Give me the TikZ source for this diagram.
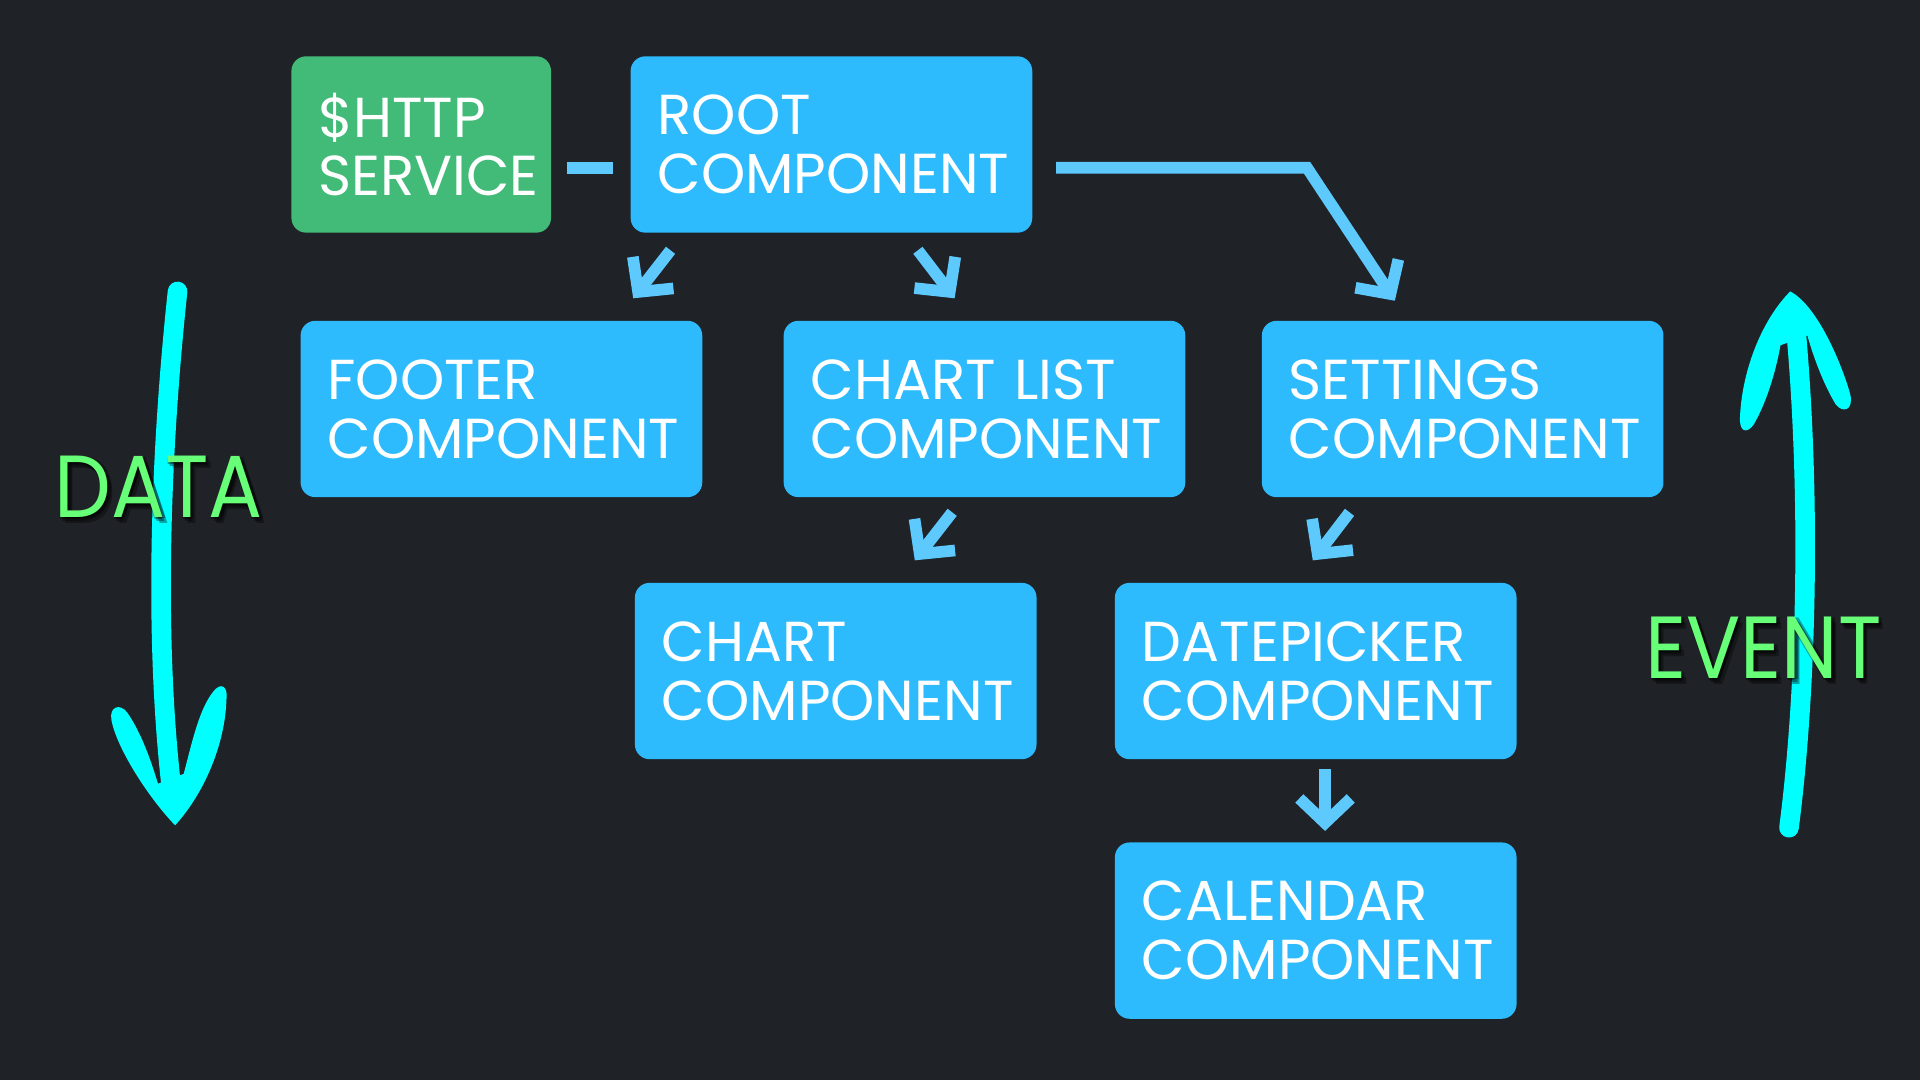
\documentclass[tikz,border=0pt]{standalone}
\usepackage{fontspec}
\setmainfont{Poppins}
\newfontfamily\rotulofont{Poppins}[FakeStretch=0.91]
\usetikzlibrary{calc,arrows.meta}

\definecolor{fondo}{HTML}{1F2327}
\definecolor{azul}{HTML}{2EBBFD}
\definecolor{verde}{HTML}{43BB78}
\definecolor{azulflecha}{HTML}{5DC9FD}
\definecolor{cian}{HTML}{00FFFF}
\definecolor{verdeclaro}{HTML}{66FF77}

\begin{document}
\begin{tikzpicture}[x=0.5pt,y=-0.5pt,
  caja/.style={fill=azul, rounded corners=6pt, text=white, align=left,
    text width=142pt, inner xsep=11pt, inner ysep=0pt, minimum height=72pt,
    font=\fontsize{23}{24}\selectfont},
  servicio/.style={caja, fill=verde, text width=84pt},
  enlace/.style={draw=azulflecha, line width=4.75pt, line join=miter},
  flecha/.style={enlace, -{Straight Barb[length=10pt,width=21pt]}},
  trazo/.style={draw=cian, line width=8pt, line cap=round},
  rotulo/.style={text=verdeclaro, inner sep=0pt, font=\rotulofont\fontsize{36}{36}\selectfont},
  sombra/.style={rotulo, text=black, opacity=0.35}]
% Fondo
\fill[fondo] (0,0) rectangle (1568,882);
% Cajas
\node[servicio] (http) at (344,118) {\$HTTP\\SERVICE};
\node[caja] (root) at (679,118) {ROOT\\COMPONENT};
\node[caja] (footer) at (409.5,334) {FOOTER\\COMPONENT};
\node[caja] (chartlist) at (804,334) {CHART LIST\\COMPONENT};
\node[caja] (settings) at (1194.5,334) {SETTINGS\\COMPONENT};
\node[caja] (chart) at (682.5,548) {CHART\\COMPONENT};
\node[caja] (datepicker) at (1074.5,548) {DATEPICKER\\COMPONENT};
\node[caja] (calendar) at (1074.5,760) {CALENDAR\\COMPONENT};
% $HTTP -- ROOT
\draw[enlace] ($(http.east)+(13,19)$) -- ($(root.west)+(-14,19)$);
% ROOT -> SETTINGS
\draw[flecha] ($(root.east)+(19,19)$) -- ++(205,0) -- ($(settings.north west)+(109,-16)$);
% ROOT -> FOOTER, ROOT -> CHART LIST
\draw[flecha] ($(root.south west)+(33,14)$) -- ($(footer.north west)+(272,-18)$);
\draw[flecha] ($(root.south west)+(235,14)$) -- ($(chartlist.north west)+(140,-18)$);
% CHART LIST -> CHART
\draw[flecha] ($(chartlist.south west)+(138,12)$) -- ($(chart.north west)+(229,-18)$);
% SETTINGS -> DATEPICKER
\draw[flecha] ($(settings.south west)+(72,12)$) -- ($(datepicker.north west)+(162,-18)$);
% DATEPICKER -> CALENDAR
\draw[flecha] ($(datepicker.south west)+(172,8)$) -- ($(calendar.north west)+(172,-9)$);
% Flecha DATA
\draw[trazo] (145,238) .. controls (132,360) and (124,520) .. (142,660);
\fill[cian] (143,674) .. controls (120,650) and (95,610) .. (91,588)
  .. controls (89,577) and (98,574) .. (104,582)
  .. controls (115,598) and (123,620) .. (129,640) -- (150,632)
  .. controls (156,610) and (162,580) .. (174,565)
  .. controls (180,557) and (186,560) .. (185,570)
  .. controls (184,610) and (165,650) .. (143,674) -- cycle;
% Flecha EVENT
\draw[trazo] (1461,676) .. controls (1476,560) and (1479,400) .. (1466,262);
\fill[cian] (1462,238) .. controls (1485,250) and (1505,300) .. (1511,322)
  .. controls (1514,335) and (1505,338) .. (1499,330)
  .. controls (1490,315) and (1482,295) .. (1476,274) -- (1454,282)
  .. controls (1450,305) and (1442,330) .. (1432,347)
  .. controls (1426,355) and (1420,352) .. (1421,340)
  .. controls (1423,300) and (1440,260) .. (1462,238) -- cycle;
% Rotulos con sombra
\foreach \dx/\dy [count=\i] in {2/3,4/5,0/2,3/1} {
  \node[sombra] (dataSombra\i) at (129.5+\dx,397.5+\dy) {DATA};
  \node[sombra] (eventSombra\i) at (1440+\dx,529+\dy) {EVENT};
}
\node[rotulo] (data) at (129.5,397.5) {DATA};
\node[rotulo] (event) at (1440,529) {EVENT};
\end{tikzpicture}
\end{document}
